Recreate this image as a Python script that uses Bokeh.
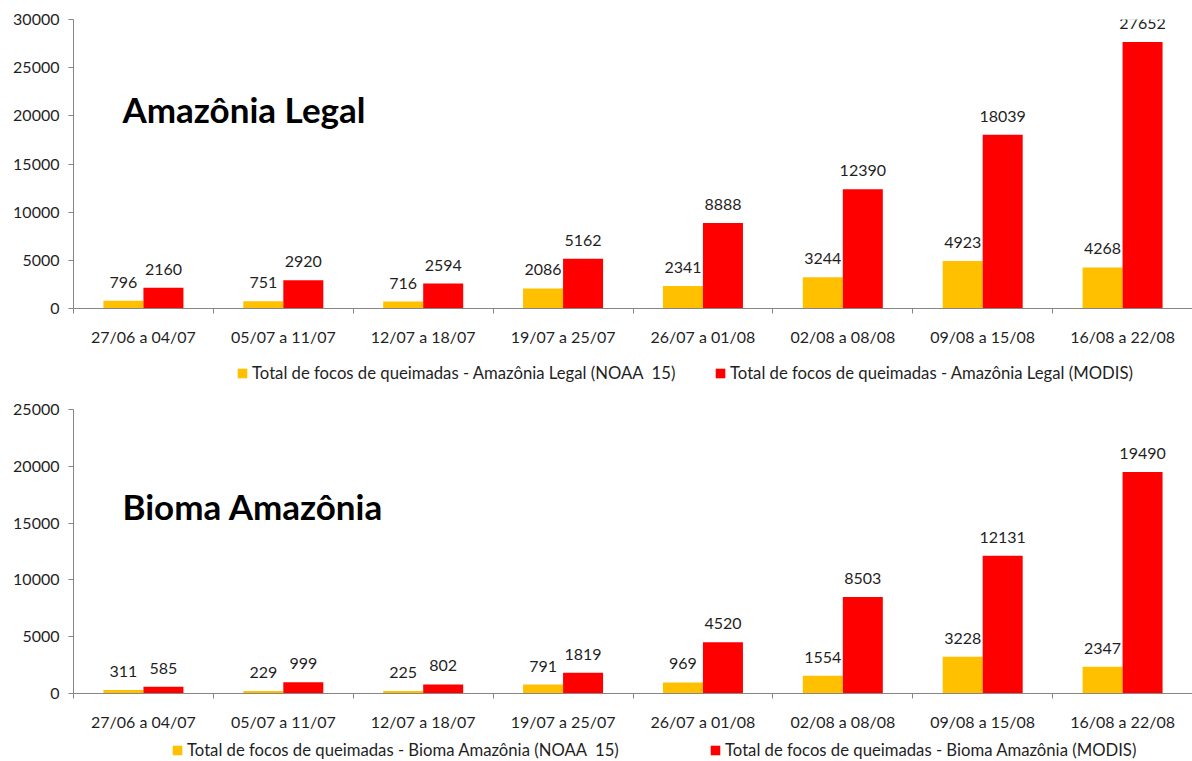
import numpy as np
from bokeh.plotting import figure
from bokeh.models import (ColumnDataSource, Range1d, FixedTicker, LabelSet, Label,
                          Legend, LegendItem)
from bokeh.transform import dodge
from bokeh.layouts import column
from bokeh.core.properties import value
from bokeh.embed import file_html
from bokeh.resources import INLINE

# ---------------- data ----------------
weeks = ["27/06 a 04/07", "05/07 a 11/07", "12/07 a 18/07", "19/07 a 25/07",
         "26/07 a 01/08", "02/08 a 08/08", "09/08 a 15/08", "16/08 a 22/08"]

legal_noaa = [796, 751, 716, 2086, 2341, 3244, 4923, 4268]
legal_modis = [2160, 2920, 2594, 5162, 8888, 12390, 18039, 27652]

bioma_noaa = [311, 229, 225, 791, 969, 1554, 3228, 2347]
bioma_modis = [585, 999, 802, 1819, 4520, 8503, 12131, 19490]

legal_yticks = [0, 5000, 10000, 15000, 20000, 25000, 30000]
bioma_yticks = [0, 5000, 10000, 15000, 20000, 25000]

legal_title = "Amazônia Legal"
bioma_title = "Bioma Amazônia"
legal_legend = ["Total de focos de queimadas - Amazônia Legal (NOAA  15)",
                "Total de focos de queimadas - Amazônia Legal (MODIS)"]
bioma_legend = ["Total de focos de queimadas - Bioma Amazônia (NOAA  15)",
                "Total de focos de queimadas - Bioma Amazônia (MODIS)"]

# ---------------- style ----------------
FONT = "Lato"
YELLOW = "#FFC000"
RED = "#FF0000"
AXIS = "#868686"
TXT = "#1f1f1f"
BW = 0.286
W = 1192
LEFT = 73   # common frame left edge (Bokeh's column aligns the frames)


def make_source(noaa, modis):
    n = len(weeks)
    return ColumnDataSource(dict(
        xc=np.arange(n) + 0.5, noaa=noaa, modis=modis,
        noaa_txt=[str(v) for v in noaa], modis_txt=[str(v) for v in modis]))


def make_chart(title, src, yticks, height, b_top, b_bottom, title_xy):
    n = len(weeks)
    p = figure(width=W, height=height,
               x_range=Range1d(0, n), y_range=Range1d(0, max(yticks)),
               output_backend="svg", toolbar_location=None,
               min_border_left=LEFT, min_border_right=0,
               min_border_top=b_top, min_border_bottom=b_bottom)
    p.outline_line_color = None
    p.xgrid.grid_line_color = None
    p.ygrid.grid_line_color = None

    p.vbar(x=dodge("xc", -BW / 2), top="noaa", width=BW, source=src,
           fill_color=YELLOW, line_color=None)
    p.vbar(x=dodge("xc", BW / 2), top="modis", width=BW, source=src,
           fill_color=RED, line_color=None)

    for field, txt, off in (("noaa", "noaa_txt", -BW / 2), ("modis", "modis_txt", BW / 2)):
        p.add_layout(LabelSet(x=dodge("xc", off), y=field, text=txt, source=src,
                              text_align="center", text_baseline="alphabetic",
                              y_offset=13, text_font=value(FONT),
                              text_font_size="16px", text_color=TXT))

    xc = list(src.data["xc"])
    xa = p.xaxis[0]
    xa.ticker = FixedTicker(ticks=xc, minor_ticks=list(range(n + 1)))
    xa.major_label_overrides = {float(x): w for x, w in zip(xc, weeks)}
    xa.axis_line_color = AXIS
    xa.major_tick_line_color = None
    xa.major_tick_in = 0
    xa.major_tick_out = 0
    xa.minor_tick_in = 0
    xa.minor_tick_out = 5
    xa.minor_tick_line_color = AXIS
    xa.major_label_standoff = 13
    xa.major_label_text_font = FONT
    xa.major_label_text_font_size = "16px"
    xa.major_label_text_color = TXT

    ya = p.yaxis[0]
    ya.ticker = FixedTicker(ticks=yticks, minor_ticks=[])
    ya.axis_line_color = AXIS
    ya.major_tick_line_color = AXIS
    ya.major_tick_in = 0
    ya.major_tick_out = 5
    ya.major_label_standoff = 9
    ya.major_label_text_font = FONT
    ya.major_label_text_font_size = "16px"
    ya.major_label_text_color = TXT

    p.add_layout(Label(x=title_xy[0], y=title_xy[1], x_units="screen", y_units="screen",
                       text=title, text_font=FONT, text_font_style="bold",
                       text_font_size="35px", text_color="black",
                       text_baseline="alphabetic"))
    return p


def make_legend_row(src, labels, height, xs, vy):
    lf = figure(width=W, height=height, x_range=Range1d(0, 1), y_range=Range1d(0, 1),
                output_backend="svg", toolbar_location=None,
                x_axis_location=None, y_axis_location=None,
                min_border_left=LEFT, min_border_right=0,
                min_border_top=0, min_border_bottom=0)
    lf.outline_line_color = None
    lf.xgrid.grid_line_color = None
    lf.ygrid.grid_line_color = None
    # legend keys: the same series, not shown in this strip, only in its legend
    keys = [lf.vbar(x="xc", top=f, width=BW, source=src, fill_color=c,
                    line_color=None, visible=False)
            for f, c in (("noaa", YELLOW), ("modis", RED))]
    for r, lab, lx in zip(keys, labels, xs):
        lf.add_layout(Legend(items=[LegendItem(label=lab, renderers=[r])],
                             location=(lx, vy), orientation="horizontal",
                             border_line_color=None, background_fill_alpha=0,
                             inactive_fill_alpha=0,
                             padding=0, margin=0, spacing=0,
                             glyph_width=12, glyph_height=12, label_standoff=4,
                             label_height=20,
                             label_text_font=FONT, label_text_font_size="16.7px",
                             label_text_color=TXT))
    return lf


legal_src = make_source(legal_noaa, legal_modis)
bioma_src = make_source(bioma_noaa, bioma_modis)

p1 = make_chart(legal_title, legal_src, legal_yticks,
                height=360, b_top=19, b_bottom=52, title_xy=(49, 200))
l1 = make_legend_row(legal_src, legal_legend, height=30,
                     xs=(236 - LEFT, 714 - LEFT), vy=7)
p2 = make_chart(bioma_title, bioma_src, bioma_yticks,
                height=346, b_top=19, b_bottom=43, title_xy=(49, 188))
l2 = make_legend_row(bioma_src, bioma_legend, height=25,
                     xs=(171 - LEFT, 709 - LEFT), vy=1)

layout = column(p1, l1, p2, l2)
open("out.html", "w").write(file_html(layout, INLINE))
